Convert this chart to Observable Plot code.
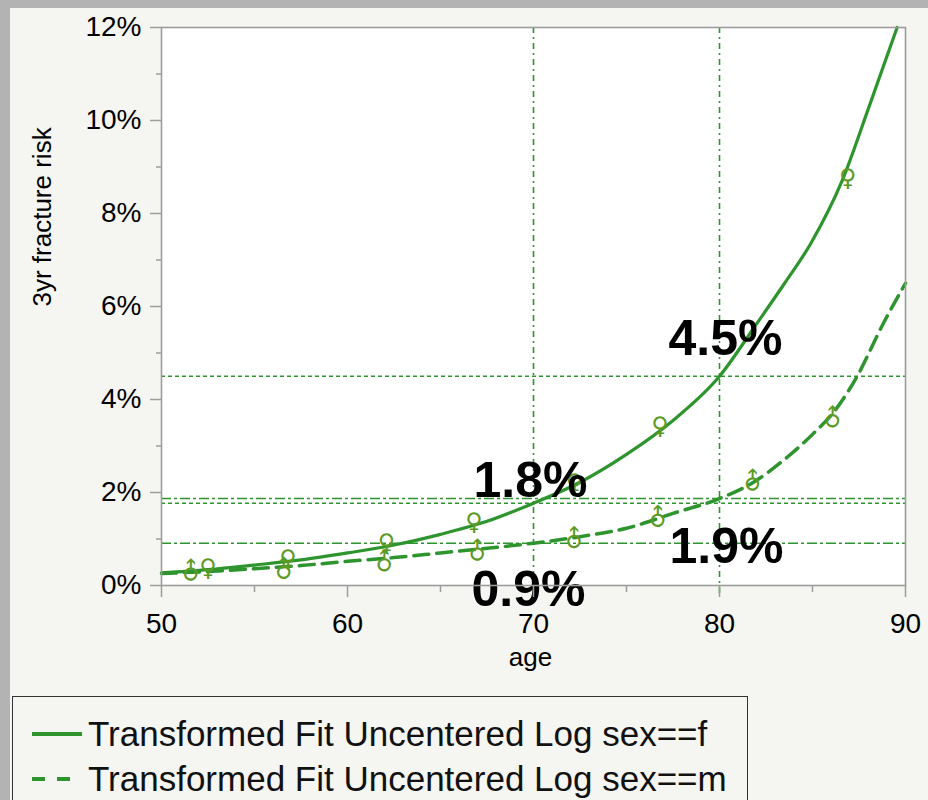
<!DOCTYPE html>
<html>
<head>
<meta charset="utf-8">
<script src="https://cdn.jsdelivr.net/npm/d3@7"></script>
<script src="https://cdn.jsdelivr.net/npm/@observablehq/plot@0.6"></script>
<style>
  html, body { margin: 0; padding: 0; background: #b3b3b3; }
  #page { position: absolute; left: 10px; top: 8px; width: 918px; height: 792px; background: #f5f5f1; overflow: hidden; }
  #chart { position: absolute; left: 0; top: 0; }
  #legend { position: absolute; left: 2px; top: 688px; width: 734px; height: 140px; border: 1.5px solid #333; background: #f5f5f1;
            font-family: "Liberation Sans", Arial, sans-serif; font-size: 35px; color: #111; }
  .item { position: absolute; left: 0; height: 40px; display: flex; align-items: center; }
  .item svg { margin-left: 19px; margin-right: 6px; }
</style>
</head>
<body>
<div id="page">
  <div id="chart"></div>
  <div id="legend"></div>
</div>
<script>
// ---- data ----
const ageTicks = [50, 60, 70, 80, 90];
const ageMinor = [55, 65, 75, 85];
const riskTicks = [0, 2, 4, 6, 8, 10, 12];
const riskMinor = [1, 3, 5, 7, 9, 11];

const femaleAge  = [50, 52.5, 55, 57.5, 60, 62.5, 65, 67.5, 70, 72.5, 75, 77.5, 80, 82, 83.5, 84.9, 86.6, 88, 89.55];
const femaleRisk = [0.27, 0.34, 0.44, 0.55, 0.7, 0.87, 1.1, 1.38, 1.77, 2.22, 2.82, 3.55, 4.5, 5.63, 6.5, 7.35, 8.71, 10.25, 12.0];

const maleAge  = [50, 52.5, 55, 57.5, 60, 62.5, 65, 67.5, 70, 72.5, 75, 77.5, 80, 81.7, 83.7, 85, 86.2, 87.4, 88.8, 90];
const maleRisk = [0.26, 0.3, 0.36, 0.43, 0.52, 0.6, 0.7, 0.8, 0.91, 1.05, 1.23, 1.55, 1.87, 2.19, 2.78, 3.25, 3.76, 4.5, 5.63, 6.5];

const femaleObsAge  = [52.5, 56.8, 62.1, 66.8, 72.2, 76.8, 86.9];
const femaleObsRisk = [0.37, 0.56, 0.9, 1.35, 2.2, 3.42, 8.75];
const maleObsAge  = [51.6, 56.6, 62.0, 67.0, 72.2, 76.7, 81.8, 86.1];
const maleObsRisk = [0.3, 0.34, 0.5, 0.73, 1.0, 1.46, 2.24, 3.6];

const refAge = [70, 80];
const femaleRef = [1.77, 4.5];
const maleRef = [0.91, 1.87];
const femaleRefLabels = ["1.8%", "4.5%"];
const maleRefLabels = ["0.9%", "1.9%"];

const seriesNames = ["Transformed Fit Uncentered Log sex==f", "Transformed Fit Uncentered Log sex==m"];

// ---- tables ----
const female = femaleAge.map((a, i) => ({age: a, risk: femaleRisk[i]}));
const male = maleAge.map((a, i) => ({age: a, risk: maleRisk[i]}));
const fObs = femaleObsAge.map((a, i) => ({age: a, risk: femaleObsRisk[i]}));
const mObs = maleObsAge.map((a, i) => ({age: a, risk: maleObsRisk[i]}));
const fRef = refAge.map((a, i) => ({age: a, risk: femaleRef[i], label: femaleRefLabels[i]}));
const mRef = refAge.map((a, i) => ({age: a, risk: maleRef[i], label: maleRefLabels[i]}));

const green = "#2e952e";
const markColor = "#5c9a24";
const gray = "#9c9c9c";
const dotted = "4,3";
const dashDot = "10,3,3,3";
const font = "Liberation Sans, Arial, Helvetica, sans-serif";

const chart = Plot.plot({
  width: 918,
  height: 680,
  marginLeft: 151,
  marginRight: 23,
  marginTop: 19,
  marginBottom: 103,
  x: {domain: [50, 90]},
  y: {domain: [0, 12]},
  style: {background: "transparent", fontFamily: font, fontSize: "28px", color: "black", overflow: "visible"},
  marks: [
    Plot.frame({fill: "white", stroke: null}),
    // reference rules
    Plot.ruleY(fRef, {y: "risk", stroke: green, strokeWidth: 1.6, strokeDasharray: dotted}),
    Plot.ruleY(mRef, {y: "risk", stroke: green, strokeWidth: 1.6, strokeDasharray: dashDot}),
    Plot.ruleX(mRef, {x: "age", y1: 12, y2: -0.25, stroke: green, strokeWidth: 1.6, strokeDasharray: "6,4,2,4"}),
    // fitted curves
    Plot.line(female, {x: "age", y: "risk", stroke: green, strokeWidth: 3.2, curve: "monotone-x"}),
    Plot.line(male, {x: "age", y: "risk", stroke: green, strokeWidth: 3.5, strokeDasharray: "15,8", curve: "monotone-x"}),
    // observed markers
    Plot.text(fObs, {x: "age", y: "risk", text: () => "♀", fill: markColor, fontSize: 24, fontFamily: "DejaVu Sans"}),
    Plot.text(mObs, {x: "age", y: "risk", text: () => "♂", fill: markColor, fontSize: 24, fontFamily: "DejaVu Sans", rotate: -45}),
    // big labels
    Plot.text([fRef[1]], {x: "age", y: "risk", text: "label", dy: -37, dx: 6, fontSize: 50, fontWeight: "bold", fill: "black"}),
    Plot.text([fRef[0]], {x: "age", y: "risk", text: "label", dy: -22, dx: -3, fontSize: 50, fontWeight: "bold", fill: "black"}),
    Plot.text([mRef[1]], {x: "age", y: "risk", text: "label", dy: 48, dx: 7, fontSize: 50, fontWeight: "bold", fill: "black"}),
    Plot.text([mRef[0]], {x: "age", y: "risk", text: "label", dy: 47, dx: -5, fontSize: 50, fontWeight: "bold", fill: "black"}),
    // axes
    Plot.axisY(riskTicks, {tickSize: 11, tickPadding: 9, tickFormat: d => d + "%", stroke: gray, strokeWidth: 1.5, fill: "black", label: null}),
    Plot.axisY(riskMinor, {tickSize: 5, tickFormat: () => "", stroke: gray, strokeWidth: 1.5, label: null}),
    Plot.axisX(ageTicks, {tickSize: 12, tickPadding: 16, stroke: gray, strokeWidth: 1.5, fill: "black", label: null}),
    Plot.axisX(ageMinor, {tickSize: 7, tickFormat: () => "", stroke: gray, strokeWidth: 1.5, label: null}),
    Plot.text(["3yr fracture risk"], {frameAnchor: "left", text: d => d, rotate: -90, dx: -119, fontSize: 26, fill: "black"}),
    Plot.text(["age"], {frameAnchor: "bottom", text: d => d, dy: 80, dx: -3, fontSize: 26, fill: "black"}),
    Plot.frame({stroke: gray, strokeWidth: 1.6})
  ]
});
document.getElementById("chart").appendChild(chart);

// legend
const legend = document.getElementById("legend");
seriesNames.forEach((name, i) => {
  const div = document.createElement("div");
  div.className = "item";
  div.style.top = (i === 0 ? 17 : 62) + "px";
  const dash = i === 0 ? "" : 'stroke-dasharray="13,12"';
  div.innerHTML = `<svg width="50" height="10"><line x1="0" y1="5" x2="50" y2="5" stroke="${green}" stroke-width="4" ${dash}/></svg><span>${name}</span>`;
  legend.appendChild(div);
});
</script>
</body>
</html>
